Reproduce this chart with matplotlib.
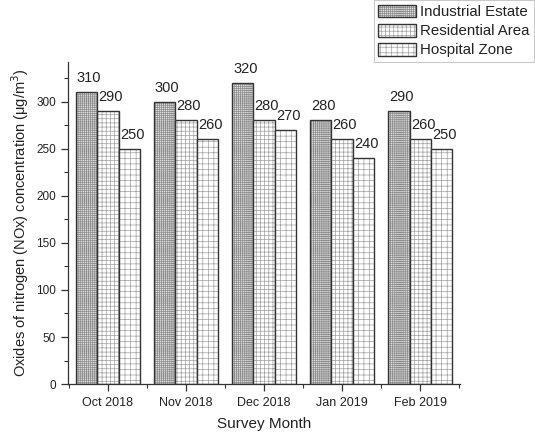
import matplotlib
matplotlib.use("Agg")
import matplotlib.pyplot as plt
import numpy as np
from matplotlib.ticker import MultipleLocator, FixedLocator
from matplotlib.legend_handler import HandlerTuple
from matplotlib.patches import Patch

plt.rcParams['font.family'] = ['Liberation Sans', 'DejaVu Sans']
plt.rcParams['hatch.linewidth'] = 0.5

months = ["Oct 2018", "Nov 2018", "Dec 2018", "Jan 2019", "Feb 2019"]
series_names = ["Industrial Estate", "Residential Area", "Hospital Zone"]
industrial = [310, 300, 320, 280, 290]
residential = [290, 280, 280, 260, 260]
hospital = [250, 260, 270, 240, 250]
hatches = ["++++++++", "++++", "+++"]
hatch_colors = ["#8c8c8c", "#a0a0a0", "#a0a0a0"]
face_colors = ["#dedede", "white", "white"]
edge_color = "#333333"
text_color = "#222222"

fig = plt.figure(figsize=(5.35, 4.37), dpi=100)
ax = fig.add_axes([0.127, 0.121, 0.733, 0.737])

x = np.arange(len(months))
w = 0.275
series = [industrial, residential, hospital]
handles = []
for i, (vals, name, h, hc, fc) in enumerate(zip(series, series_names, hatches,
                                                hatch_colors, face_colors)):
    pos = x + (i - 1) * w
    ax.bar(pos, vals, width=w, facecolor=fc, edgecolor=hc,
           linewidth=0, hatch=h)
    ax.bar(pos, vals, width=w, facecolor='none', edgecolor=edge_color,
           linewidth=1.0)
    handles.append((Patch(facecolor=fc, edgecolor=hc, linewidth=0, hatch=h),
                    Patch(facecolor='none', edgecolor=edge_color, linewidth=1.0)))
    for px, v in zip(pos, vals):
        ax.annotate(str(v), (px, v), xytext=(2, 5), textcoords='offset points',
                    ha='center', va='bottom', fontsize=10.5, color=text_color)

ax.set_xlim(-0.51, 4.51)
ax.set_ylim(0, 342)
ax.set_xticks(x)
ax.set_xticklabels(months, fontsize=9, color=text_color)
ax.xaxis.set_minor_locator(FixedLocator(np.arange(-0.5, 5.0, 1.0)))
ax.yaxis.set_major_locator(MultipleLocator(50))
ax.yaxis.set_minor_locator(MultipleLocator(25))
ax.tick_params(axis='y', which='major', length=5, width=0.9, labelsize=8.5,
               color=edge_color, labelcolor=text_color)
ax.tick_params(axis='y', which='minor', length=3, width=0.8, color=edge_color)
ax.tick_params(axis='x', which='major', length=5, width=0.9, pad=4, color=edge_color)
ax.tick_params(axis='x', which='minor', length=3, width=0.8, color=edge_color)
for s in ['top', 'right']:
    ax.spines[s].set_visible(False)
for s in ['left', 'bottom']:
    ax.spines[s].set_linewidth(0.9)
    ax.spines[s].set_color(edge_color)

ax.set_xlabel("Survey Month", fontsize=11, labelpad=6, color=text_color)
ax.set_ylabel("Oxides of nitrogen (NOx) concentration (μg/m$^{3}$)", fontsize=10.5,
              labelpad=4, color=text_color)

leg = fig.legend(handles=handles, labels=series_names, loc='upper right',
                 bbox_to_anchor=(0.998, 1.0), fontsize=10.8, frameon=True,
                 fancybox=False, edgecolor='#bbbbbb', handlelength=2.5,
                 handleheight=0.95, labelspacing=0.3, handletextpad=0.3,
                 borderpad=0.3, borderaxespad=0.0,
                 handler_map={tuple: HandlerTuple(ndivide=1, pad=0)})
leg.get_frame().set_linewidth(0.8)
for t in leg.get_texts():
    t.set_color(text_color)

fig.savefig("out.png", dpi=100)
